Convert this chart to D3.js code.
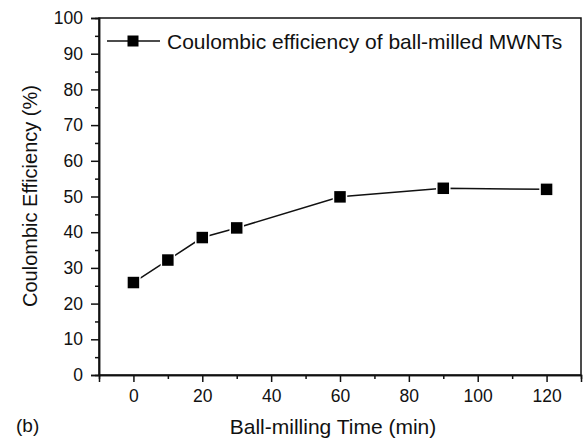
<!DOCTYPE html>
<html>
<head>
<meta charset="utf-8">
<script src="https://cdn.jsdelivr.net/npm/d3@7"></script>
<style>
  body { margin: 0; background: #fff; }
  svg text { font-family: "Liberation Sans", Arial, Helvetica, sans-serif; fill: #111; }
</style>
</head>
<body>
<svg id="chart" width="584" height="440"></svg>
<script>
// data
const times = [0, 10, 20, 30, 60, 90, 120]
const efficiency = [25.9, 32.2, 38.5, 41.2, 49.9, 52.3, 52.0]
const xTicks = [0, 20, 40, 60, 80, 100, 120]
const yTicks = [0, 10, 20, 30, 40, 50, 60, 70, 80, 90, 100]
const seriesName = 'Coulombic efficiency of ball-milled MWNTs'

const width = 584, height = 440
const m = {left: 99, right: 3, top: 18, bottom: 65}

const svg = d3.select('#chart')

const x = d3.scaleLinear().domain([-10, 130]).range([m.left, width - m.right])
const y = d3.scaleLinear().domain([0, 100]).range([height - m.bottom, m.top])

// frame
svg.append('rect')
    .attr('x', m.left)
    .attr('y', m.top)
    .attr('width', width - m.right - m.left)
    .attr('height', height - m.bottom - m.top)
    .attr('fill', 'none')
    .attr('stroke', '#111')
    .attr('stroke-width', 1.5)

// minor ticks
let xAxisMinor = d3.axisBottom(x).tickValues(d3.range(10, 130, 20)).tickSize(4).tickFormat('')
let yAxisMinor = d3.axisLeft(y).tickValues(d3.range(5, 100, 10)).tickSize(4).tickFormat('')

let xAxis = d3.axisBottom(x).tickValues(xTicks).tickSize(7).tickPadding(8)
let yAxis = d3.axisLeft(y).tickValues(yTicks).tickSize(8).tickPadding(8)

let gx = svg.append('g').attr('transform', 'translate(0,' + (height - m.bottom) + ')')
gx.call(xAxis)
svg.append('g').attr('transform', 'translate(0,' + (height - m.bottom) + ')').call(xAxisMinor)

let gy = svg.append('g').attr('transform', 'translate(' + m.left + ',0)')
gy.call(yAxis)
svg.append('g').attr('transform', 'translate(' + m.left + ',0)').call(yAxisMinor)

svg.selectAll('.domain').attr('stroke', '#111').attr('stroke-width', 1.5)
svg.selectAll('.tick line').attr('stroke', '#111').attr('stroke-width', 1.5)
svg.selectAll('.tick text').attr('font-size', 17.5).attr('fill', '#111')
    .attr('font-family', '"Liberation Sans", Arial, sans-serif')

// axis titles
svg.append('text')
    .attr('x', 333)
    .attr('y', 434)
    .attr('text-anchor', 'middle')
    .attr('font-size', 21)
    .text('Ball-milling Time (min)')

svg.append('text')
    .attr('transform', 'translate(37,196) rotate(-90)')
    .attr('text-anchor', 'middle')
    .attr('font-size', 20)
    .text('Coulombic Efficiency (%)')

svg.append('text')
    .attr('x', 16)
    .attr('y', 432)
    .attr('font-size', 19)
    .text('(b)')

// series
const pts = times.map((t, i) => [t, efficiency[i]])
const line = d3.line().x(d => x(d[0])).y(d => y(d[1]))

svg.append('path')
    .attr('d', line(pts))
    .attr('fill', 'none')
    .attr('stroke', '#111')
    .attr('stroke-width', 1.5)

const ms = 13
svg.selectAll('.pt')
    .data(pts)
    .enter().append('rect')
    .attr('class', 'pt')
    .attr('x', d => x(d[0]) - ms / 2)
    .attr('y', d => y(d[1]) - ms / 2)
    .attr('width', ms)
    .attr('height', ms)
    .attr('fill', '#000')
    .attr('stroke', '#fff')
    .attr('stroke-width', 1.5)

// legend
const ly = 41
svg.append('line')
    .attr('x1', 107).attr('x2', 160)
    .attr('y1', ly).attr('y2', ly)
    .attr('stroke', '#111').attr('stroke-width', 1.5)
svg.append('rect')
    .attr('x', 133 - 5.5).attr('y', ly - 5.5)
    .attr('width', 11).attr('height', 11)
    .attr('fill', '#000')
svg.append('text')
    .attr('x', 167)
    .attr('y', ly + 7.5)
    .attr('font-size', 21)
    .text(seriesName)
</script>
</body>
</html>
